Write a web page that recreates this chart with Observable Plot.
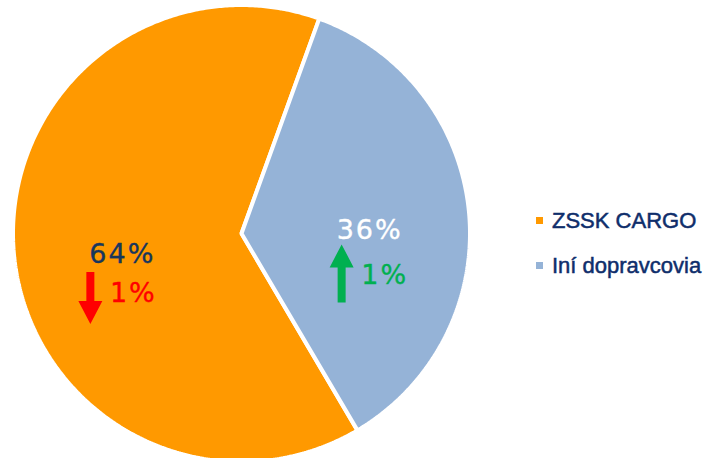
<!DOCTYPE html>
<html>
<head>
<meta charset="utf-8">
<script src="https://cdn.jsdelivr.net/npm/d3@7"></script>
<script src="https://cdn.jsdelivr.net/npm/@observablehq/plot@0.6"></script>
<style>
  html, body { margin: 0; padding: 0; background: #fff; }
  #wrap { position: relative; width: 720px; height: 458px; overflow: hidden; }
  #wrap svg text { letter-spacing: 2px; }
  .legend { position: absolute; left: 536px; top: 0; font-family: "Liberation Sans", Arial, sans-serif; font-size: 22px; color: #0F2E6B; -webkit-text-stroke: 0.5px #0F2E6B; }
  .legend .item { position: absolute; left: 0; white-space: nowrap; line-height: 22px; height: 22px; }
  .legend .sw { position: absolute; left: 0; top: 7px; width: 7px; height: 7px; }
  .legend .lbl { position: absolute; left: 16px; top: 0; }
</style>
</head>
<body>
<div id="wrap"></div>
<script>
// ---- data ----
const categories = ["ZSSK CARGO", "Iní dopravcovia"];
const shares = [64, 36];
const changes = [-1, 1];
const changeLabels = ["1%", "1%"];
const colors = ["#FF9900", "#95B3D7"];
const changeColors = ["#FF0000", "#00B050"];
const shareTextColors = ["#17365D", "#FFFFFF"];

// ---- pie geometry (from data via d3.pie) ----
const startDeg = 149.5;
const a0 = startDeg * Math.PI / 180;
const arcs = d3.pie().sort(null).startAngle(a0).endAngle(a0 + 2 * Math.PI)(shares);

const poly = [];
arcs.forEach((arc, i) => {
  poly.push({cat: categories[i], x: 0, y: 0});
  const n = Math.max(2, Math.ceil((arc.endAngle - arc.startAngle) / (Math.PI / 360)));
  for (let k = 0; k <= n; k++) {
    const a = arc.startAngle + (arc.endAngle - arc.startAngle) * k / n;
    poly.push({cat: categories[i], x: Math.sin(a), y: Math.cos(a)});
  }
});

const labels = arcs.map((arc, i) => {
  const m = (arc.startAngle + arc.endAngle) / 2;
  return {
    cat: categories[i],
    share: shares[i] + "%",
    change: changeLabels[i],
    dir: changes[i],
    x: 0.55 * Math.sin(m),
    y: 0.55 * Math.cos(m)
  };
});

function arrowSymbol(dir) {
  // dir: -1 down, +1 up
  return {
    draw(ctx, size) {
      const r = Math.sqrt(size / Math.PI);
      const hl = 23, hw = 12, sw = 4;
      const s = dir < 0 ? 1 : -1;
      ctx.moveTo(-sw, -r * s);
      ctx.lineTo(sw, -r * s);
      ctx.lineTo(sw, (r - hl) * s);
      ctx.lineTo(hw, (r - hl) * s);
      ctx.lineTo(0, r * s);
      ctx.lineTo(-hw, (r - hl) * s);
      ctx.lineTo(-sw, (r - hl) * s);
      ctx.closePath();
    }
  };
}

const offsets = [
  {pct: [6, 9], chg: [17, 48], arrow: [-26, 53], r: 26},
  {pct: [3, 8], chg: [18, 53], arrow: [-25, 51.5], r: 29}
];

const labelMarks = labels.flatMap((d, i) => {
  const o = offsets[i];
  const one = [d];
  return [
    Plot.text(one, {x: "x", y: "y", text: "share", dx: o.pct[0], dy: o.pct[1],
      fill: shareTextColors[i], stroke: shareTextColors[i], strokeWidth: 0.35,
      fontSize: 27, fontFamily: "DejaVu Sans", textAnchor: "middle", lineAnchor: "middle"}),
    Plot.text(one, {x: "x", y: "y", text: "change", dx: o.chg[0], dy: o.chg[1],
      fill: changeColors[i], stroke: changeColors[i], strokeWidth: 0.35,
      fontSize: 27, fontFamily: "DejaVu Sans", textAnchor: "middle", lineAnchor: "middle"}),
    Plot.dot(one, {x: "x", y: "y", dx: o.arrow[0], dy: o.arrow[1], r: o.r,
      symbol: arrowSymbol(d.dir), fill: changeColors[i], stroke: "none"})
  ];
});

const R = 228.5, cx = 241, cy = 233;
const chart = Plot.plot({
  width: 720,
  height: 458,
  marginLeft: cx - R,
  marginRight: 720 - (cx + R),
  marginTop: cy - R,
  marginBottom: 458 - (cy + R),
  x: {domain: [-1, 1], axis: null},
  y: {domain: [-1, 1], axis: null},
  color: {domain: categories, range: colors},
  marks: [
    Plot.line(poly, {x: "x", y: "y", z: "cat", fill: "cat", stroke: "white", strokeWidth: 4,
      curve: "linear-closed", strokeLinejoin: "miter"}),
    ...labelMarks
  ]
});
chart.style.overflow = "hidden";
const wrap = document.getElementById("wrap");
wrap.appendChild(chart);

// legend (HTML, from the same arrays)
const leg = document.createElement("div");
leg.className = "legend";
const rowTops = [210, 255];
categories.forEach((c, i) => {
  const it = document.createElement("div");
  it.className = "item";
  it.style.top = rowTops[i] + "px";
  const sw = document.createElement("span");
  sw.className = "sw";
  sw.style.background = colors[i];
  const lb = document.createElement("span");
  lb.className = "lbl";
  lb.textContent = c;
  it.appendChild(sw);
  it.appendChild(lb);
  leg.appendChild(it);
});
wrap.appendChild(leg);
</script>
</body>
</html>
